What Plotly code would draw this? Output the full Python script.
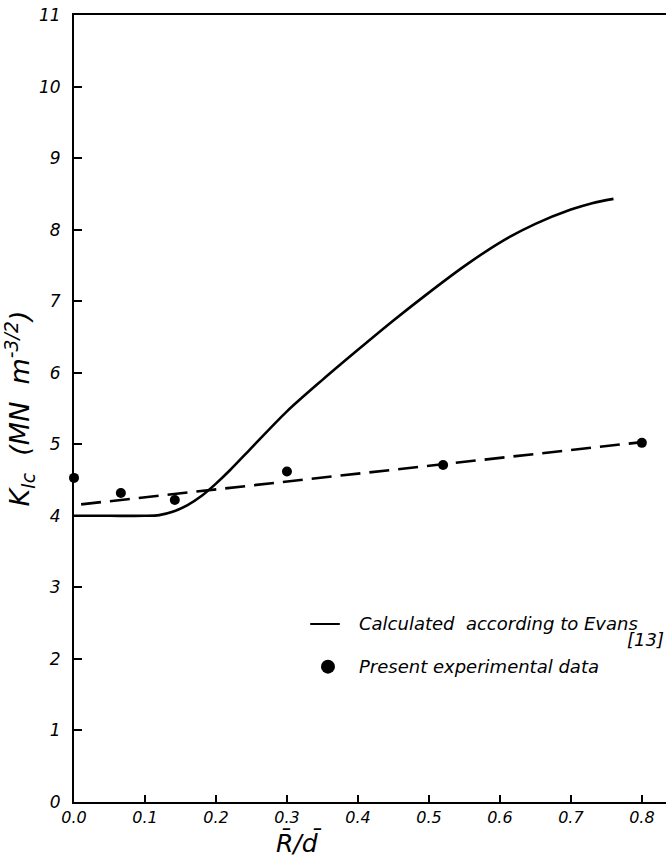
import plotly.graph_objects as go

# Experimental data
exp_x = [0.0, 0.066, 0.142, 0.30, 0.52, 0.80]
exp_y = [4.53, 4.32, 4.22, 4.62, 4.71, 5.02]

# Fitted dashed line through experimental data
fit_x = [0.01, 0.80]
fit_y = [4.16, 5.03]

# Calculated curve (Evans)
calc_x = [0.0, 0.05, 0.10, 0.12, 0.14, 0.16, 0.18, 0.20, 0.22, 0.25, 0.30, 0.35,
          0.40, 0.45, 0.50, 0.55, 0.60, 0.65, 0.70, 0.73, 0.76]
calc_y = [4.0, 4.0, 4.0, 4.01, 4.06, 4.15, 4.28, 4.45, 4.64, 4.95, 5.46, 5.90,
          6.32, 6.73, 7.12, 7.49, 7.82, 8.08, 8.28, 8.37, 8.43]

x_ticks = [0.0, 0.1, 0.2, 0.3, 0.4, 0.5, 0.6, 0.7, 0.8]
x_ticklabels = ["0.0", "0.1", "0.2", "0.3", "0.4", "0.5", "0.6", "0.7", "0.8"]
y_ticks = list(range(0, 12))
y_ticklabels = [str(v) for v in y_ticks]

FONT = "DejaVu Sans"

fig = go.Figure()
fig.add_trace(go.Scatter(x=calc_x, y=calc_y, mode="lines", line=dict(color="black", width=2.6, shape="spline", smoothing=0.8),
                         showlegend=False, cliponaxis=False))
fig.add_trace(go.Scatter(x=fit_x, y=fit_y, mode="lines", line=dict(color="black", width=2.6, dash="20px,9px"),
                         showlegend=False, cliponaxis=False))
fig.add_trace(go.Scatter(x=exp_x, y=exp_y, mode="markers", marker=dict(color="black", size=10),
                         showlegend=False, cliponaxis=False))

# Legend drawn manually (paper coordinates)
fig.add_shape(type="line", xref="paper", yref="paper", x0=0.399, x1=0.449, y0=0.2262, y1=0.2262,
              line=dict(color="black", width=2))
fig.add_annotation(xref="paper", yref="paper", x=0.478, y=0.2262, xanchor="left", yanchor="middle",
                   text="Calculated  according to Evans", showarrow=False,
                   font=dict(family=FONT, size=18, color="black", style="italic"))
fig.add_annotation(xref="paper", yref="paper", x=1.0, y=0.2060, xanchor="right", yanchor="middle",
                   text="[13]", showarrow=False,
                   font=dict(family=FONT, size=18, color="black", style="italic"))
fig.add_trace(go.Scatter(x=[0.429], y=[0.1720], xaxis="x2", yaxis="y2", mode="markers",
                         marker=dict(color="black", size=14), showlegend=False, cliponaxis=False))
fig.add_annotation(xref="paper", yref="paper", x=0.478, y=0.1720, xanchor="left", yanchor="middle",
                   text="Present experimental data", showarrow=False,
                   font=dict(family=FONT, size=18, color="black", style="italic"))

# X axis title
fig.add_annotation(xref="paper", yref="paper", x=0.38, y=-0.052, xanchor="center", yanchor="middle",
                   text="R\u0304/d\u0304", showarrow=False,
                   font=dict(family=FONT, size=25, color="black", style="italic"))

fig.update_layout(
    width=666, height=858,
    margin=dict(l=74, r=0, t=15, b=56),
    paper_bgcolor="white", plot_bgcolor="white",
    font=dict(family=FONT, color="black", style="italic"),
    xaxis=dict(range=[0, 0.834], tickvals=x_ticks, ticktext=x_ticklabels, ticks="inside", ticklen=7,
               tickwidth=1.5, tickcolor="black", showline=True, linecolor="black", linewidth=2,
               mirror=True, showgrid=False, zeroline=False,
               tickfont=dict(family=FONT, size=16, color="black", style="italic")),
    yaxis=dict(range=[0, 11], tickvals=y_ticks, ticktext=y_ticklabels, ticks="inside", ticklen=8,
               tickwidth=1.5, tickcolor="black", showline=True, linecolor="black", linewidth=2,
               showgrid=False, zeroline=False, ticklabelstandoff=8,
               tickfont=dict(family=FONT, size=17, color="black", style="italic"),
               title=dict(text="K<sub>Ic</sub>  (MN  m<sup>-3/2</sup>)", standoff=6,
                          font=dict(family=FONT, size=27, color="black", style="italic"))),
    xaxis2=dict(range=[0, 1], overlaying="x", visible=False),
    yaxis2=dict(range=[0, 1], overlaying="y", visible=False),
)

fig.write_html("out.html")
